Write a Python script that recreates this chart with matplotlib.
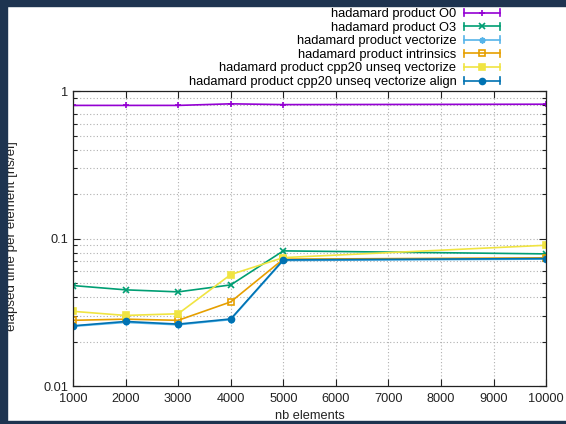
import matplotlib
matplotlib.use("Agg")
import matplotlib.pyplot as plt
from matplotlib.lines import Line2D
from matplotlib.legend_handler import HandlerLine2D
from matplotlib.patches import Rectangle
from matplotlib.ticker import FixedLocator, LogLocator, NullFormatter

plt.rcParams['font.family'] = ['Liberation Sans', 'DejaVu Sans']

# ---------- DATA ----------
nb_elements = [1000, 2000, 3000, 4000, 5000, 10000]

names = ['hadamard product O0',
         'hadamard product O3',
         'hadamard product vectorize',
         'hadamard product intrinsics',
         'hadamard product cpp20 unseq vectorize',
         'hadamard product cpp20 unseq vectorize align']

o0 = [0.80, 0.80, 0.80, 0.82, 0.81, 0.815]
o3 = [0.048, 0.0449, 0.0435, 0.0485, 0.0825, 0.0787]
vectorize = [0.0254, 0.0270, 0.0260, 0.0282, 0.0710, 0.0726]
intrinsics = [0.0279, 0.0284, 0.0279, 0.0372, 0.0725, 0.0740]
cpp20_unseq = [0.0321, 0.0301, 0.0309, 0.057, 0.0743, 0.0901]
cpp20_align = [0.0256, 0.0274, 0.0263, 0.0285, 0.0717, 0.0732]

x_ticks = [1000, 2000, 3000, 4000, 5000, 6000, 7000, 8000, 9000, 10000]
y_ticks = [0.01, 0.1, 1]
y_ticklabels = ['0.01', '0.1', '1']

series = [o0, o3, vectorize, intrinsics, cpp20_unseq, cpp20_align]
colors = ['#9400d3', '#009e73', '#56b4e9', '#e69f00', '#f0e442', '#0072b2']
markers = ['+', 'x', (8, 2, 0), 's', 's', 'o']
fills = ['full', 'full', 'full', 'none', 'full', 'full']


# legend sample with end caps, like gnuplot
class CapHandler(HandlerLine2D):
    def create_artists(self, legend, orig_handle, xdescent, ydescent,
                       width, height, fontsize, trans):
        arts = super().create_artists(legend, orig_handle, xdescent, ydescent,
                                      width, height, fontsize, trans)
        xd = arts[0].get_xdata()
        yc = arts[0].get_ydata()[0]
        h = height * 0.38
        for xc in (xd[0], xd[-1]):
            cap = Line2D([xc, xc], [yc - h, yc + h], color=orig_handle.get_color(),
                         lw=orig_handle.get_linewidth())
            cap.set_transform(trans)
            arts.append(cap)
        return arts


fig = plt.figure(figsize=(5.66, 4.24), dpi=100)
ax = fig.add_axes([0.129, 0.0896, 0.836, 0.6955])

handles = []
for vals, name, c, m, fs in zip(series, names, colors, markers, fills):
    ln, = ax.plot(nb_elements, vals, color=c, marker=m, fillstyle=fs,
                  lw=1.2, ms=4.3, mew=1.2, label=name)
    handles.append(ln)

ax.set_yscale('log')
ax.set_xlim(1000, 10000)
ax.set_ylim(0.01, 1)
ax.xaxis.set_major_locator(FixedLocator(x_ticks))
ax.set_xticklabels([str(v) for v in x_ticks])
ax.yaxis.set_major_locator(FixedLocator(y_ticks))
ax.set_yticklabels(y_ticklabels)
ax.yaxis.set_minor_locator(LogLocator(base=10, subs=range(2, 10)))
ax.yaxis.set_minor_formatter(NullFormatter())

ax.grid(True, which='major', color='#b0b0b0', ls=(0, (1, 2)), lw=0.8)
ax.grid(True, which='minor', axis='y', color='#b0b0b0', ls=(0, (1, 2)), lw=0.8)
ax.set_axisbelow(True)

ax.tick_params(which='both', direction='in', top=True, right=True,
               labelsize=9.2, colors='#222222')
ax.tick_params(which='major', length=5, width=0.8)
ax.tick_params(which='minor', length=3, width=0.8)
ax.tick_params(axis='x', pad=5)
for sp in ax.spines.values():
    sp.set_color('#222222')
    sp.set_linewidth(0.9)

ax.set_xlabel('nb elements', fontsize=9.2, color='#222222', labelpad=3.5)
fig.text(0.022, 0.443, 'elapsed time per element [ns/el]', rotation=90,
         ha='center', va='center', fontsize=9.6, color='#222222')

fig.legend(handles=handles, loc='upper right', bbox_to_anchor=(0.884, 0.981),
           frameon=False, markerfirst=False, fontsize=9.3, handlelength=2.8,
           handletextpad=0.6, labelspacing=0.12, borderpad=0, borderaxespad=0,
           handler_map={Line2D: CapHandler()})

# dark frame of the screenshot
navy = '#1e3450'
fig.patches.append(Rectangle((0, 0.986), 1, 0.014, transform=fig.transFigure,
                             color=navy, zorder=10))
fig.patches.append(Rectangle((0, 0), 0.0124, 1, transform=fig.transFigure,
                             color=navy, zorder=10))
fig.patches.append(Rectangle((0, 0), 1, 0.007, transform=fig.transFigure,
                             color=navy, zorder=10))

fig.savefig('out.png', dpi=100)
